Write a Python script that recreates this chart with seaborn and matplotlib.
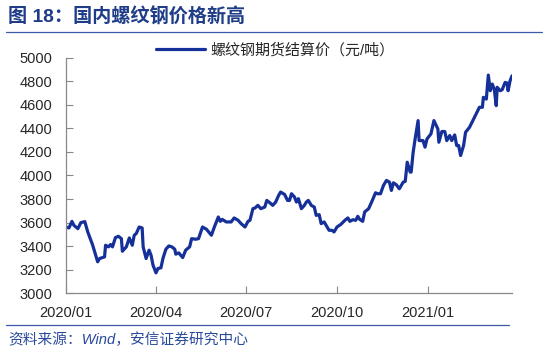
import pandas as pd
import matplotlib.pyplot as plt
import matplotlib.dates as mdates
import seaborn as sns

# days after 2020-01-01, and settlement price (yuan/ton)
day_offsets = [0, 3, 6, 8, 12, 15, 19, 22, 27, 32, 34, 37, 39, 40, 43, 45, 47, 50, 53, 56,
               57, 61, 64, 67, 69, 71, 74, 77, 78, 81, 84, 86, 88, 91, 93, 96, 98, 101, 104, 107,
               110, 111, 114, 116, 118, 121, 125, 127, 131, 134, 138, 142, 147, 150, 154, 156, 158, 162, 167, 170,
               174, 177, 181, 184, 186, 189, 191, 194, 197, 201, 203, 206, 209, 212, 215, 217, 221, 224, 226, 228,
               231, 233, 235, 238, 241, 243, 245, 248, 251, 253, 256, 258, 261, 263, 266, 269, 271, 274, 278, 282,
               285, 287, 290, 293, 295, 297, 300, 302, 306, 309, 313, 315, 318, 321, 324, 327, 329, 331, 334, 337,
               339, 341, 343, 345, 348, 349, 351, 353, 356, 357, 361, 363, 365, 369, 372, 376, 377, 380, 383, 385,
               388, 390, 393, 395, 397, 399, 402, 404, 408, 413, 418, 421, 422, 425, 427, 429, 431, 433, 435, 436,
               439, 441, 444, 446, 447, 449, 451]
prices = [3562, 3554, 3610, 3576, 3548, 3599, 3608, 3520, 3407, 3266, 3294, 3302, 3308, 3407, 3393, 3413, 3393, 3472, 3483, 3463,
          3356, 3393, 3469, 3407, 3492, 3506, 3562, 3554, 3393, 3294, 3365, 3322, 3237, 3172, 3209, 3215, 3294, 3373, 3401, 3393,
          3373, 3331, 3342, 3322, 3302, 3365, 3393, 3463, 3458, 3463, 3562, 3543, 3492, 3562, 3647, 3610, 3627, 3605, 3605, 3639,
          3619, 3591, 3562, 3610, 3619, 3718, 3723, 3746, 3718, 3732, 3788, 3769, 3746, 3774, 3831, 3859, 3839, 3788, 3788, 3845,
          3817, 3774, 3803, 3718, 3746, 3774, 3788, 3746, 3732, 3661, 3667, 3591, 3605, 3576, 3534, 3534, 3520, 3562, 3585, 3619,
          3639, 3610, 3624, 3619, 3653, 3627, 3610, 3690, 3718, 3774, 3853, 3845, 3845, 3916, 3958, 3944, 3873, 3938, 3921, 3887,
          3916, 3944, 3950, 4113, 4029, 4029, 4198, 4311, 4467, 4297, 4297, 4241, 4311, 4354, 4467, 4396, 4283, 4374, 4374, 4297,
          4340, 4297, 4345, 4255, 4255, 4170, 4255, 4368, 4410, 4495, 4580, 4580, 4665, 4650, 4854, 4721, 4778, 4735, 4594, 4750,
          4721, 4729, 4792, 4786, 4721, 4806, 4848]
y_ticks = [3000, 3200, 3400, 3600, 3800, 4000, 4200, 4400, 4600, 4800, 5000]
x_ticks = ['2020-01-01', '2020-04-01', '2020-07-01', '2020-10-01', '2021-01-01']
series_name = '螺纹钢期货结算价（元/吨）'

df = pd.DataFrame({'date': pd.Timestamp('2020-01-01') + pd.to_timedelta(day_offsets, unit='D'),
                   'price': prices})

sns.set_style('ticks')
plt.rcParams['font.family'] = ['Liberation Sans', 'Noto Sans CJK SC']

blue = '#16309a'
fig = plt.figure(figsize=(5.5, 3.51), dpi=100)
ax = fig.add_axes([0.12, 0.165, 0.811, 0.67])
sns.lineplot(x='date', y='price', data=df, ax=ax, color=blue, linewidth=2.3, label=series_name)

ax.set_xlim(df['date'].iloc[0], df['date'].iloc[-1])
ax.set_ylim(3000, 5000)
ax.set_yticks(y_ticks)
ax.set_xticks(pd.to_datetime(x_ticks))
ax.xaxis.set_major_formatter(mdates.DateFormatter('%Y/%m'))
ax.set_xlabel('')
ax.set_ylabel('')
ax.tick_params(axis='both', direction='in', length=5, color='#888888', labelsize=10.5, pad=10)
ax.tick_params(axis='x', pad=9)
for s in ['top', 'right']:
    ax.spines[s].set_visible(False)
for s in ['left', 'bottom']:
    ax.spines[s].set_color('#888888')
    ax.spines[s].set_linewidth(0.9)

ax.legend(loc='center', bbox_to_anchor=(0.5, 0.857), bbox_transform=fig.transFigure,
          frameon=False, fontsize=10.8, handlelength=3.3, handletextpad=0.3)

fig.text(0.015, 0.952, '图 18：国内螺纹钢价格新高', fontsize=13.8, fontweight='bold',
         color='#1f3c88', va='center', ha='left')
fig.add_artist(plt.Line2D([0.01, 0.985], [0.91, 0.91], color='#3a5aa8', lw=0.9))
fig.add_artist(plt.Line2D([0.01, 0.925], [0.074, 0.074], color='#3a5aa8', lw=0.9))
fig.text(0.015, 0.032, '资料来源：Wind，安信证券研究中心', fontsize=10.6, style='italic',
         color='#2a4a9c', va='center', ha='left')

plt.savefig('out.png', dpi=100)
